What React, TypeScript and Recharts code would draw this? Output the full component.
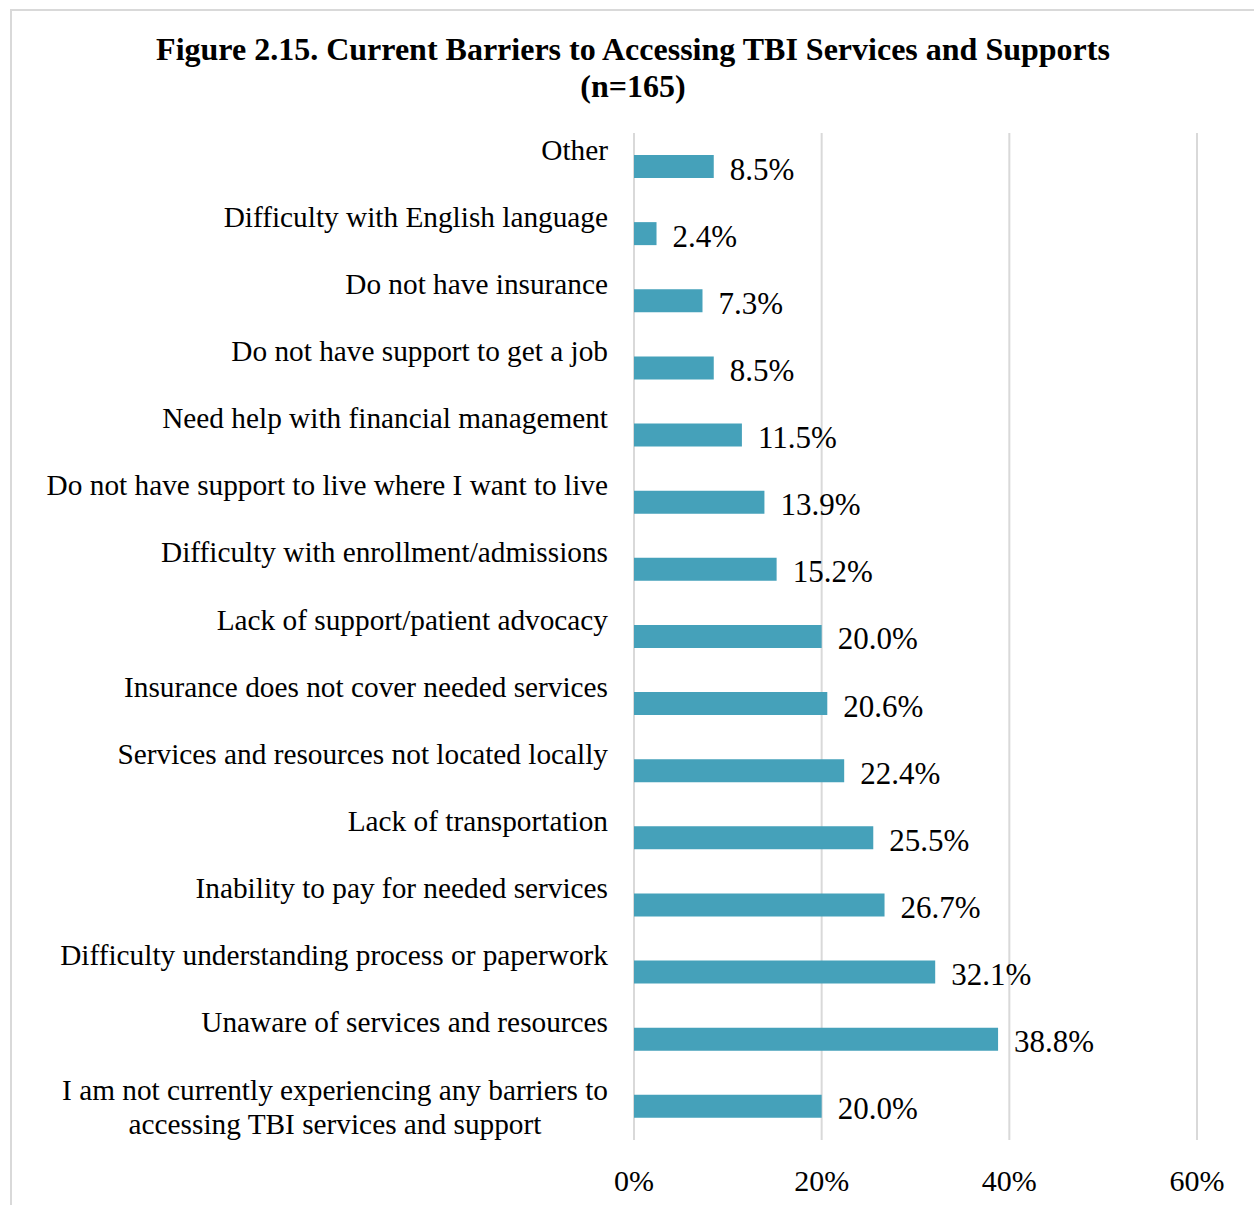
import { BarChart, Bar, XAxis, YAxis, CartesianGrid, LabelList } from "recharts";

const categories = [
  "Other",
  "Difficulty with English language",
  "Do not have insurance",
  "Do not have support to get a job",
  "Need help with financial management",
  "Do not have support to live where I want to live",
  "Difficulty with enrollment/admissions",
  "Lack of support/patient advocacy",
  "Insurance does not cover needed services",
  "Services and resources not located locally",
  "Lack of transportation",
  "Inability to pay for needed services",
  "Difficulty understanding process or paperwork",
  "Unaware of services and resources",
  "I am not currently experiencing any barriers to\naccessing TBI services and support",
];

const percents = [8.5, 2.4, 7.3, 8.5, 11.5, 13.9, 15.2, 20.0, 20.6, 22.4, 25.5, 26.7, 32.1, 38.8, 20.0];

const xTicks = [0, 20, 40, 60];

const data = categories.map((name, i) => ({ name, value: percents[i] }));

const FONT = '"Liberation Serif", "Times New Roman", serif';
const BAR_COLOR = "#45a1ba";

// category labels sit a bit above the bar; extra lines go below
function CategoryTick(props: any) {
  const { x, y, payload } = props;
  const lines = String(payload.value).split("\n");
  const right = x - 26;
  if (lines.length === 1) {
    return (
      <text x={right} y={y - 7} textAnchor="end" fontSize={29.3} fill="#000" fontFamily={FONT}>
        {lines[0]}
      </text>
    );
  }
  // multi-line: block right aligned, lines centered within it
  const mid = right - 273;
  return (
    <text textAnchor="middle" fontSize={29.3} fill="#000" fontFamily={FONT}>
      {lines.map((l, i) => (
        <tspan key={i} x={mid} y={y - 6 + i * 34}>
          {l}
        </tspan>
      ))}
    </text>
  );
}

function PercentTick(props: any) {
  const { x, y, payload } = props;
  return (
    <text x={x} y={y + 51} textAnchor="middle" fontSize={30} fill="#000" fontFamily={FONT}>
      {`${payload.value}%`}
    </text>
  );
}

function ValueLabel(props: any) {
  const { x, y, width, height, value } = props;
  return (
    <text x={x + width + 16} y={y + height / 2 + 13} fontSize={31} fill="#000" fontFamily={FONT}>
      {`${Number(value).toFixed(1)}%`}
    </text>
  );
}

export default function App() {
  return (
    <div
      style={{
        position: "absolute",
        left: 0,
        top: 0,
        width: 1254,
        height: 1205,
        overflow: "hidden",
        background: "#fff",
        fontFamily: FONT,
      }}
    >
      <div
        style={{
          position: "absolute",
          left: 10,
          top: 9,
          width: 1270,
          height: 1220,
          border: "2px solid #d9d9d9",
        }}
      />
      <div
        style={{
          position: "absolute",
          left: 0,
          top: 31,
          width: 1266,
          textAlign: "center",
          fontSize: 32,
          fontWeight: "bold",
          lineHeight: "37px",
          color: "#000",
        }}
      >
        Figure 2.15. Current Barriers to Accessing TBI Services and Supports
        <br />
        (n=165)
      </div>
      <div style={{ position: "absolute", left: 0, top: 0 }}>
        <BarChart
          width={1254}
          height={1205}
          data={data}
          layout="vertical"
          margin={{ top: 133, right: 57, bottom: 5, left: 0 }}
          barSize={23}
        >
          <CartesianGrid horizontal={false} stroke="#d9d9d9" strokeWidth={2} />
          <XAxis
            type="number"
            domain={[0, 60]}
            ticks={xTicks}
            height={60}
            axisLine={false}
            tickLine={false}
            tickSize={0}
            tickMargin={0}
            tick={<PercentTick />}
            interval={0}
          />
          <YAxis
            type="category"
            dataKey="name"
            width={634}
            axisLine={false}
            tickLine={false}
            tickSize={0}
            tickMargin={0}
            tick={<CategoryTick />}
            interval={0}
          />
          <Bar dataKey="value" fill={BAR_COLOR} isAnimationActive={false}>
            <LabelList dataKey="value" content={<ValueLabel />} />
          </Bar>
        </BarChart>
      </div>
    </div>
  );
}
